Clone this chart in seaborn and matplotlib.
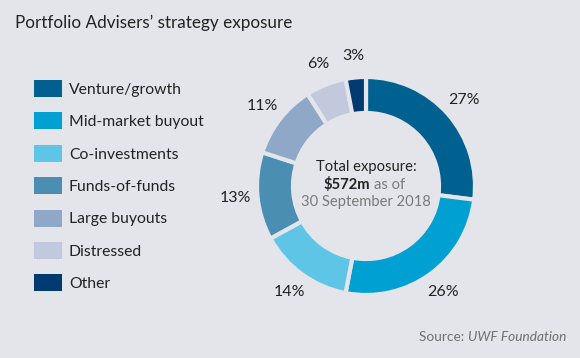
import matplotlib.pyplot as plt
from matplotlib.patches import Patch
import seaborn as sns

categories = ['Venture/growth', 'Mid-market buyout', 'Co-investments', 'Funds-of-funds',
              'Large buyouts', 'Distressed', 'Other']
shares = [27, 26, 14, 13, 11, 6, 3]
colors = ['#00608f', '#00a0d3', '#5ec5e7', '#4a8fb1', '#8fa8c8', '#c3c9dd', '#003a70']

bg = '#e4e5ea'
sns.set_style('white')
plt.rcParams['font.family'] = ['Lato', 'DejaVu Sans']
palette = sns.color_palette(colors)

fig = plt.figure(figsize=(5.8, 3.58), dpi=100, facecolor=bg)

# pie axes: centre ~ (366, 186) px, outer radius ~109 px
lim = 1.4
size = 2 * lim * 109
ax = fig.add_axes([(366 - size / 2) / 580, (172 - size / 2) / 358, size / 580, size / 358])
ax.set_facecolor(bg)
wedges, texts = ax.pie(
    shares,
    colors=palette,
    startangle=90,
    counterclock=False,
    labels=[f'{v}%' for v in shares],
    labeldistance=1.2,
    wedgeprops=dict(width=0.33, edgecolor=bg, linewidth=3),
    textprops=dict(fontsize=11.5, color='#222222'),
)
for t in texts:
    t.set_horizontalalignment('center')
    t.set_verticalalignment('center')
ax.set_xlim(-lim, lim)
ax.set_ylim(-lim, lim)
ax.axis('off')

ax.text(0, 0.17, 'Total exposure:', ha='center', va='center', fontsize=10.6, color='#222222')
ax.text(0.04, 0.01, '$572m', ha='right', va='center', fontsize=10.6, fontweight='bold', color='#222222')
ax.text(0.07, 0.01, 'as of', ha='left', va='center', fontsize=10.6, color='#7a7a7a')
ax.text(0, -0.15, '30 September 2018', ha='center', va='center', fontsize=10.6, color='#7a7a7a')

fig.text(15 / 580, 1 - 23 / 358, 'Portfolio Advisers\u2019 strategy exposure',
         ha='left', va='center', fontsize=12.3, color='#222222')

handles = [Patch(facecolor=c, edgecolor='none') for c in palette]
fig.legend(handles, categories, loc='upper left', bbox_to_anchor=(34 / 580, 1 - 80 / 358),
           frameon=False, fontsize=11.3, handlelength=1.78, handleheight=1.29,
           handletextpad=0.45, labelspacing=0.98, borderpad=0, borderaxespad=0,
           labelcolor='#222222')

src = fig.text(566 / 580, 1 - 337 / 358, 'UWF Foundation', ha='right', va='center',
               fontsize=9.8, fontstyle='italic', color='#6f6f6f')
fig.canvas.draw()
bb = src.get_window_extent()
fig.text(bb.x0 / 580, 1 - 337 / 358, 'Source: ', ha='right', va='center', fontsize=9.8,
         color='#6f6f6f')

fig.savefig('out.png', dpi=100, facecolor=bg)
